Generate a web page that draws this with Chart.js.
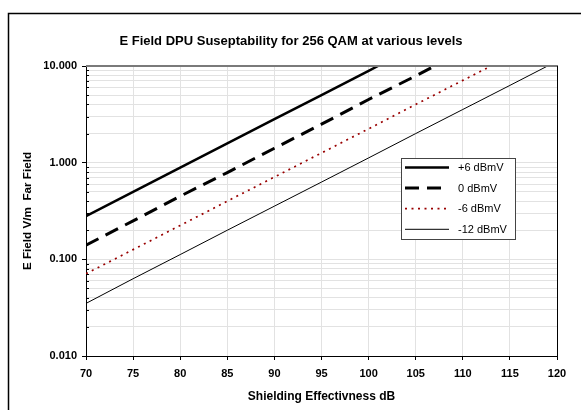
<!DOCTYPE html>
<html><head><meta charset="utf-8">
<script src="https://cdn.jsdelivr.net/npm/chart.js@4/dist/chart.umd.min.js"></script>
<style>html,body{margin:0;padding:0;background:#fff}#wrap{width:581px;height:410px;position:relative}canvas{display:block}</style>
</head><body><div id="wrap"><canvas id="c" width="581" height="410"></canvas></div>
<script>
const chartTitle = 'E Field DPU Suseptability for 256 QAM at various levels';
const xAxisTitle = 'Shielding Effectivness dB';
const yAxisTitle = 'E Field V/m  Far Field';
const seriesLabels = ['+6 dBmV', '0 dBmV', '-6 dBmV', '-12 dBmV'];
const xTickValues = [70, 75, 80, 85, 90, 95, 100, 105, 110, 115, 120];
const yTickValues = [0.01,0.02,0.03,0.04,0.05,0.06,0.07,0.08,0.09,
                     0.1,0.2,0.3,0.4,0.5,0.6,0.7,0.8,0.9,
                     1,2,3,4,5,6,7,8,9,10];
const yLabelValues = [0.01, 0.1, 1, 10];

const plus6X = [70, 75, 80, 85, 90, 95, 100, 101];
const plus6Y = [0.28, 0.50, 0.89, 1.58, 2.82, 5.0, 8.9, 10.0];
const zeroX = [70, 75, 80, 85, 90, 95, 100, 105, 107];
const zeroY = [0.14, 0.25, 0.45, 0.79, 1.41, 2.5, 4.5, 7.9, 10.0];
const minus6X = [70, 75, 80, 85, 90, 95, 100, 105, 110, 113];
const minus6Y = [0.071, 0.126, 0.224, 0.40, 0.71, 1.26, 2.24, 4.0, 7.1, 10.0];
const minus12X = [70, 75, 80, 85, 90, 95, 100, 105, 110, 115, 119];
const minus12Y = [0.035, 0.063, 0.112, 0.20, 0.355, 0.63, 1.12, 2.0, 3.55, 6.3, 10.0];

const FONT = 'Liberation Sans, Arial, sans-serif';
const pts = (xs, ys) => xs.map((x, i) => ({x: x, y: ys[i]}));

const decor = {
  id: 'decor',
  afterDraw(chart) {
    const ctx = chart.ctx;
    const a = chart.chartArea;
    const ys = chart.scales.y;
    ctx.save();
    // outer frame
    ctx.strokeStyle = '#000'; ctx.lineWidth = 1.5;
    ctx.beginPath(); ctx.moveTo(8.5, 410); ctx.lineTo(8.5, 13.5); ctx.lineTo(581, 13.5); ctx.stroke();
    // title
    ctx.fillStyle = '#000';
    ctx.font = 'bold 13px ' + FONT;
    ctx.textAlign = 'center'; ctx.textBaseline = 'middle';
    ctx.fillText(chartTitle, 291, 41);
    // plot top border (gray) and right border
    ctx.strokeStyle = '#7a7a7a'; ctx.lineWidth = 2;
    ctx.beginPath(); ctx.moveTo(a.left, a.top); ctx.lineTo(a.right + 1, a.top); ctx.stroke();
    ctx.strokeStyle = '#000'; ctx.lineWidth = 1;
    ctx.beginPath(); ctx.moveTo(a.right + 0.5, a.top); ctx.lineTo(a.right + 0.5, a.bottom); ctx.stroke();
    // minor inner ticks on y axis
    ctx.beginPath();
    yTickValues.forEach(v => {
      if (yLabelValues.includes(v)) return;
      const y = Math.round(ys.getPixelForValue(v)) + 0.5;
      ctx.moveTo(a.left, y); ctx.lineTo(a.left + 3, y);
    });
    ctx.stroke();
    // legend
    const lx = 401.5, ly = 158.5, lw = 114, lh = 81;
    ctx.fillStyle = '#fff'; ctx.fillRect(lx, ly, lw, lh);
    ctx.strokeStyle = '#444'; ctx.lineWidth = 1; ctx.setLineDash([]);
    ctx.strokeRect(lx, ly, lw, lh);
    ctx.font = '11px ' + FONT; ctx.textAlign = 'left'; ctx.textBaseline = 'middle';
    chart.data.datasets.forEach((ds, i) => {
      const y = 167.5 + i * 20.6;
      ctx.strokeStyle = ds.borderColor; ctx.lineWidth = ds.borderWidth;
      ctx.setLineDash(ds.borderDash || []);
      ctx.beginPath(); ctx.moveTo(405, y); ctx.lineTo(449, y); ctx.stroke();
      ctx.setLineDash([]);
      ctx.fillStyle = '#000';
      ctx.fillText(ds.label, 458, y + 0.5);
    });
    ctx.restore();
  }
};

new Chart(document.getElementById('c'), {
  type: 'line',
  data: {
    datasets: [
      {label: seriesLabels[0], data: pts(plus6X, plus6Y), borderColor: '#000', borderWidth: 2.5, borderDash: []},
      {label: seriesLabels[1], data: pts(zeroX, zeroY), borderColor: '#000', borderWidth: 3, borderDash: [14, 8]},
      {label: seriesLabels[2], data: pts(minus6X, minus6Y), borderColor: '#990000', borderWidth: 1.7, borderDash: [2, 4.5]},
      {label: seriesLabels[3], data: pts(minus12X, minus12Y), borderColor: '#000', borderWidth: 1, borderDash: []}
    ]
  },
  options: {
    responsive: false,
    animation: false,
    devicePixelRatio: 1,
    layout: {padding: {left: 0, top: 66, right: 24, bottom: 0}},
    elements: {point: {radius: 0}, line: {tension: 0}},
    plugins: {legend: {display: false}, title: {display: false}, tooltip: {enabled: false}},
    scales: {
      x: {
        type: 'linear', min: 70, max: 120,
        afterBuildTicks: s => { s.ticks = xTickValues.map(v => ({value: v})); },
        ticks: {color: '#000', font: {family: FONT, size: 11, weight: 'bold'}, padding: 7, maxRotation: 0, autoSkip: false},
        grid: {color: '#e2e2e2', tickColor: '#000', tickLength: 4},
        border: {color: '#000', width: 1},
        title: {display: true, text: xAxisTitle, color: '#000', font: {family: FONT, size: 12, weight: 'bold'}, padding: {top: 0, bottom: 6}},
        afterFit: s => { s.height = 54; }
      },
      y: {
        type: 'logarithmic', min: 0.01, max: 10,
        afterBuildTicks: s => { s.ticks = yTickValues.map(v => ({value: v})); },
        ticks: {color: '#000', font: {family: FONT, size: 11, weight: 'bold'}, padding: 5, autoSkip: false,
          callback: v => yLabelValues.includes(v) ? v.toFixed(3) : ''},
        grid: {color: '#e2e2e2', tickLength: 4,
          tickColor: c => (c.tick && yLabelValues.includes(c.tick.value)) ? '#000' : 'rgba(0,0,0,0)'},
        border: {color: '#000', width: 1},
        title: {display: true, text: yAxisTitle, color: '#000', font: {family: FONT, size: 11.7, weight: 'bold'}, padding: {top: 21, bottom: 0}},
        afterFit: s => { s.width = 86; }
      }
    }
  },
  plugins: [decor]
});
</script>
</body></html>
